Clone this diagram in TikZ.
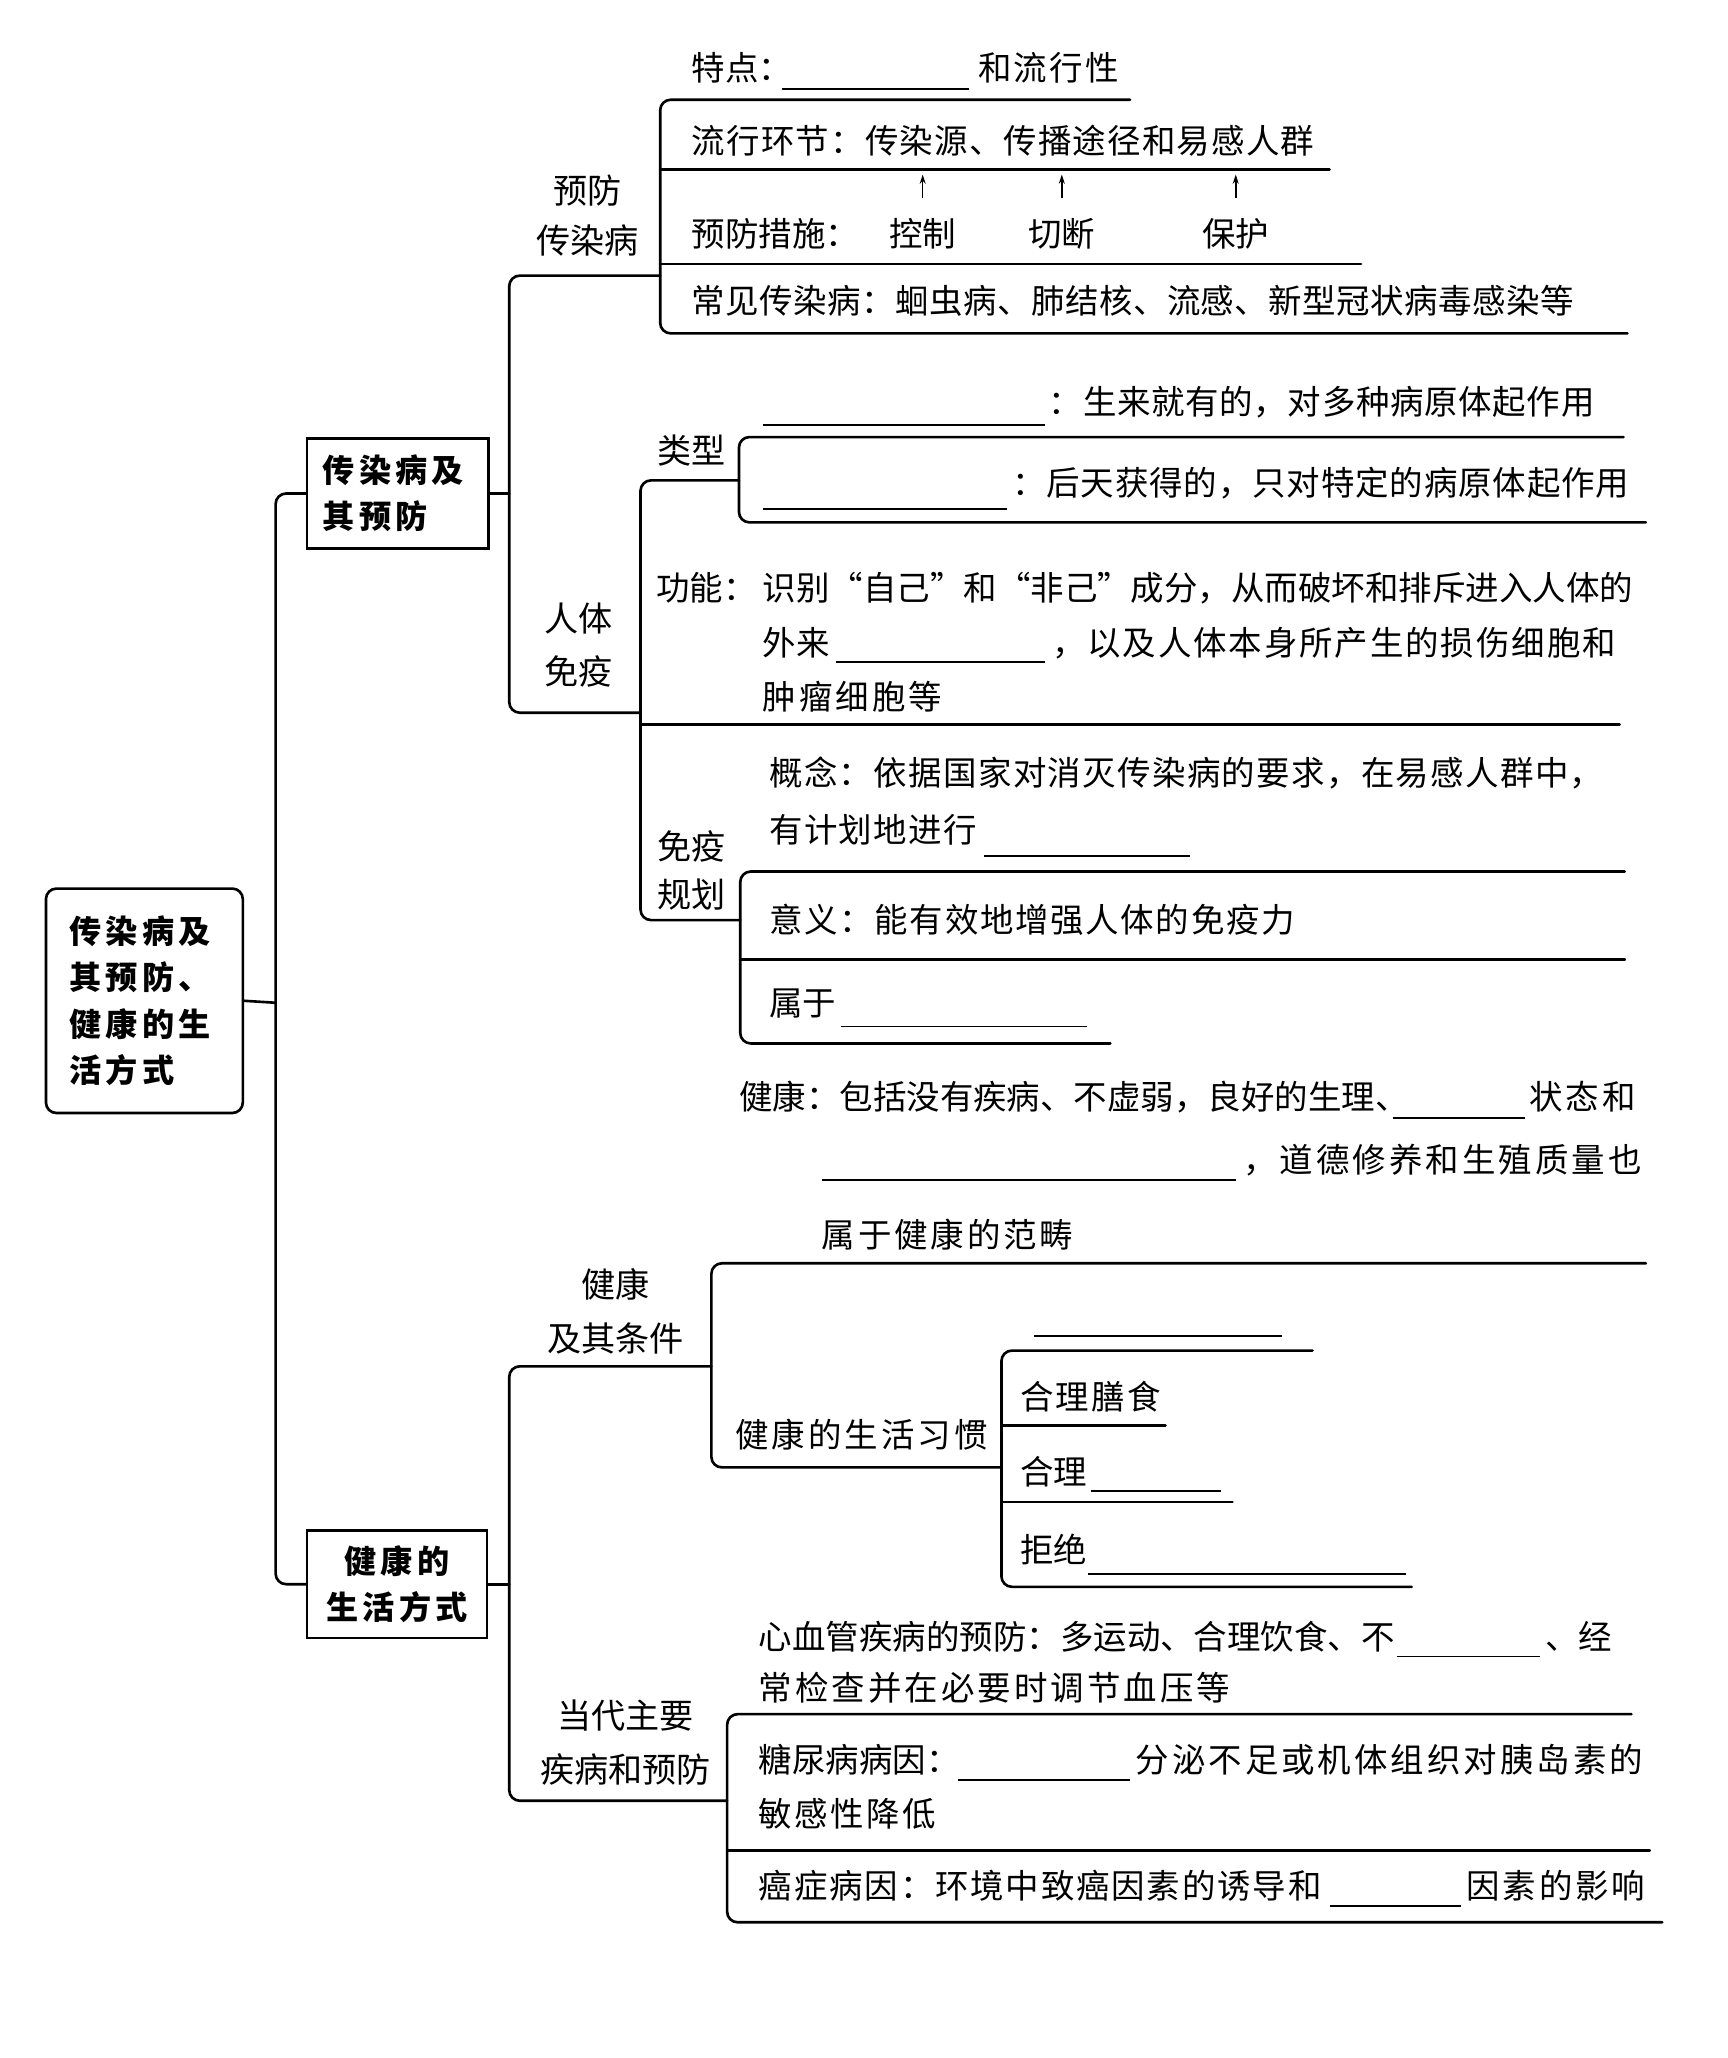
\documentclass[tikz,border=0pt]{standalone}
\usepackage{fontspec}
\newfontfamily\cjk{Noto Sans CJK SC}
\newfontfamily\cjkbx{Noto Sans CJK SC}[LetterSpace=13]
\usetikzlibrary{arrows.meta}
\newcommand\mtx{\cjk\fontsize{25.5}{30}\selectfont}
\begin{document}
\begin{tikzpicture}[x=1pt,y=-1pt,
  ln/.style={line width=2pt, line cap=round},
  bl/.style={line width=1.3pt},
  tx/.style={anchor=base west, inner sep=0pt, yshift=-9.7pt, font=\mtx},
  tc/.style={anchor=base, inner sep=0pt, yshift=-9.7pt, font=\mtx},
  ls/.style={font={\mtx\addfontfeatures{LetterSpace=#1}}},
  lb/.style={align=center, inner sep=0pt},
  bx/.style={draw, line width=2pt, inner sep=0pt},
  arr/.style={line width=1.2pt, -{Stealth[length=7pt,width=4.5pt]}}]
\useasboundingbox (0,0) rectangle (1316,1568);
\fill[white] (0,0) rectangle (1316,1568);

% ---- boxes ----
\node[bx, rounded corners=8pt, minimum width=150pt, minimum height=171pt,
  align=left, text width=114pt,
  font={\cjkbx\bfseries\fontsize{24.5}{35.3}\selectfont}] (root) at (110,762.5)
  {传染病及\\其预防、\\健康的生\\活方式};
\node[bx, minimum width=138pt, minimum height=84pt, align=left, text width=114pt,
  font={\cjkbx\bfseries\fontsize{24.5}{35}\selectfont}] (b1) at (303,376)
  {传染病及\\其预防};
\node[bx, minimum width=137pt, minimum height=82pt, align=center,
  font={\cjkbx\bfseries\fontsize{24.5}{35.5}\selectfont}] (b2) at (302.5,1207)
  {健康的\\生活方式};

% ---- trunk ----
\coordinate (tr) at (210,764);
\draw[ln] (root.east) -- (tr);
\draw[ln, rounded corners=8pt] (b1.west) -| (tr) |- (b2.west);

% ---- branch 1 ----
\coordinate (j1) at (388,376);
\draw[ln] (b1.east) -- (j1);
\draw[ln, rounded corners=8pt] (503,210) -| (j1) |- (488,543);
\node[lb, font={\cjk\fontsize{26}{38}\selectfont}] (l1) at (447.5,164) {预防\\传染病};
\node[lb, font={\cjk\fontsize{26}{40}\selectfont}] (l2) at (441,491.5) {人体\\免疫};

% 预防传染病 bracket
\draw[ln, rounded corners=8pt] (861,76) -- (503,76) -- (503,254) -- (1240,254);
\draw[ln] (503,129) -- (1013,129);
\draw[ln] (503,201) -- (1037,201);
\node[tx] (t1) at (527,52) {特点：};
\draw[bl] (596,68) -- (738,68);
\node[tx, ls=7] (t1b) at (745,52) {和流行性};
\node[tx, ls=3.5] (t2) at (527,107) {流行环节：传染源、传播途径和易感人群};
\node[tx] (t3) at (527,178) {预防措施：};
\node[tc] (kz) at (703,178) {控制};
\node[tc] (qd) at (809,178) {切断};
\node[tc] (bh) at (941.5,178) {保护};
\draw[arr] (703,151) -- (703,133);
\draw[arr] (809,151) -- (809,133);
\draw[arr] (941.5,151) -- (941.5,133);
\node[tx, ls=1.4] (t4) at (527,229) {常见传染病：蛔虫病、肺结核、流感、新型冠状病毒感染等};

% 人体免疫 bracket
\draw[ln, rounded corners=8pt] (563,366) -- (488,366) -- (488,701) -- (564,701);
\draw[ln] (488,552) -- (1234,552);
% 类型
\node[lb, font={\cjk\fontsize{26}{30}\selectfont}] (l3) at (527,343) {类型};
\draw[ln, rounded corners=8pt] (1237,333) -- (563,333) -- (563,398) -- (1254,398);
\draw[bl] (581,324) -- (796,324);
\node[tx, ls=2] (t5) at (799,306) {：生来就有的，对多种病原体起作用};
\draw[bl] (581,388) -- (767,388);
\node[tx, ls=2.6] (t6) at (771,368) {：后天获得的，只对特定的病原体起作用};
% 功能
\node[tx] (t7) at (500,448) {功能：};
\node[tx] (t7a) at (581,448) {识别“自己”和“非己”成分，从而破坏和排斥进入人体的};
\node[tx] (t7b) at (581,490) {外来};
\draw[bl] (637,504.5) -- (796,504.5);
\node[tx, ls=5.6] (t7c) at (801.5,490) {，以及人体本身所产生的损伤细胞和};
\node[tx, ls=9] (t7d) at (581,531) {肿瘤细胞等};
% 免疫规划
\node[lb, font={\cjk\fontsize{26}{37}\selectfont}] (l4) at (527,663) {免疫\\规划};
\draw[ln, rounded corners=8pt] (1238,664) -- (564,664) -- (564,795) -- (846,795);
\draw[ln] (564,731) -- (1238,731);
\node[tx, ls=4] (t8) at (586,589) {概念：依据国家对消灭传染病的要求，在易感人群中，};
\node[tx, ls=4] (t8b) at (586,632) {有计划地进行};
\draw[bl] (750,652) -- (907,652);
\node[tx, ls=5] (t9) at (586,701) {意义：能有效地增强人体的免疫力};
\node[tx] (t10) at (586,764) {属于};
\draw[bl] (641,782) -- (828,782);

% ---- branch 2 ----
\coordinate (j2) at (388,1207);
\draw[ln] (b2.east) -- (j2);
\draw[ln, rounded corners=8pt] (542,1041) -| (j2) |- (554,1372);
\node[lb, font={\cjk\fontsize{26}{41}\selectfont}] (l5) at (469,999) {健康\\及其条件};
\node[lb, font={\cjk\fontsize{26}{41}\selectfont}] (l6) at (476.5,1327.5) {当代主要\\疾病和预防};

% 健康及其条件 bracket
\draw[ln, rounded corners=8pt] (1254,962.5) -- (542,962.5) -- (542,1118) -- (763,1118);
\node[tx] (t11) at (563,836) {健康：包括没有疾病、不虚弱，良好的生理、};
\draw[bl] (1061,852) -- (1162,852);
\node[tx, ls=9] (t11b) at (1165,836) {状态和};
\draw[bl] (626,899) -- (941.5,899);
\node[tx, ls=9] (t11c) at (947,884) {，道德修养和生殖质量也};
\node[tx, ls=8.4] (t11d) at (626,941) {属于健康的范畴};
\node[tx, ls=9] (t12) at (560,1093.5) {健康的生活习惯};
% 健康的生活习惯 bracket
\draw[ln, rounded corners=8pt] (1000,1029) -- (763,1029) -- (763,1209) -- (1075.5,1209);
\draw[ln] (763,1086) -- (888,1086);
\draw[ln] (763,1144.5) -- (939,1144.5);
\draw[bl] (788,1018) -- (977,1018);
\node[tx, ls=6.9] (t13) at (777,1064.5) {合理膳食};
\node[tx] (t14) at (777,1121) {合理};
\draw[bl] (831,1136) -- (930,1136);
\node[tx] (t15) at (777,1181) {拒绝};
\draw[bl] (829,1199) -- (1071.5,1199);

% 当代主要疾病和预防 bracket
\draw[ln, rounded corners=8pt] (1243,1306) -- (554,1306) -- (554,1464.6) -- (1266.5,1464.6);
\draw[ln] (554,1410) -- (1257,1410);
\node[tx] (t16) at (578,1247) {心血管疾病的预防：多运动、合理饮食、不};
\draw[bl] (1064,1262) -- (1173,1262);
\node[tx] (t16b) at (1177,1247) {、经};
\node[tx, ls=9] (t16c) at (578,1286) {常检查并在必要时调节血压等};
\node[tx] (t17) at (578,1341) {糖尿病病因：};
\draw[bl] (730,1356) -- (861,1356);
\node[tx, ls=9] (t17b) at (865,1341) {分泌不足或机体组织对胰岛素的};
\node[tx, ls=7] (t17c) at (578,1382) {敏感性降低};
\node[tx, ls=5.4] (t18) at (578,1436.5) {癌症病因：环境中致癌因素的诱导和};
\draw[bl] (1013,1452) -- (1113,1452);
\node[tx, ls=8.6] (t18b) at (1117,1436.5) {因素的影响};
\end{tikzpicture}
\end{document}
